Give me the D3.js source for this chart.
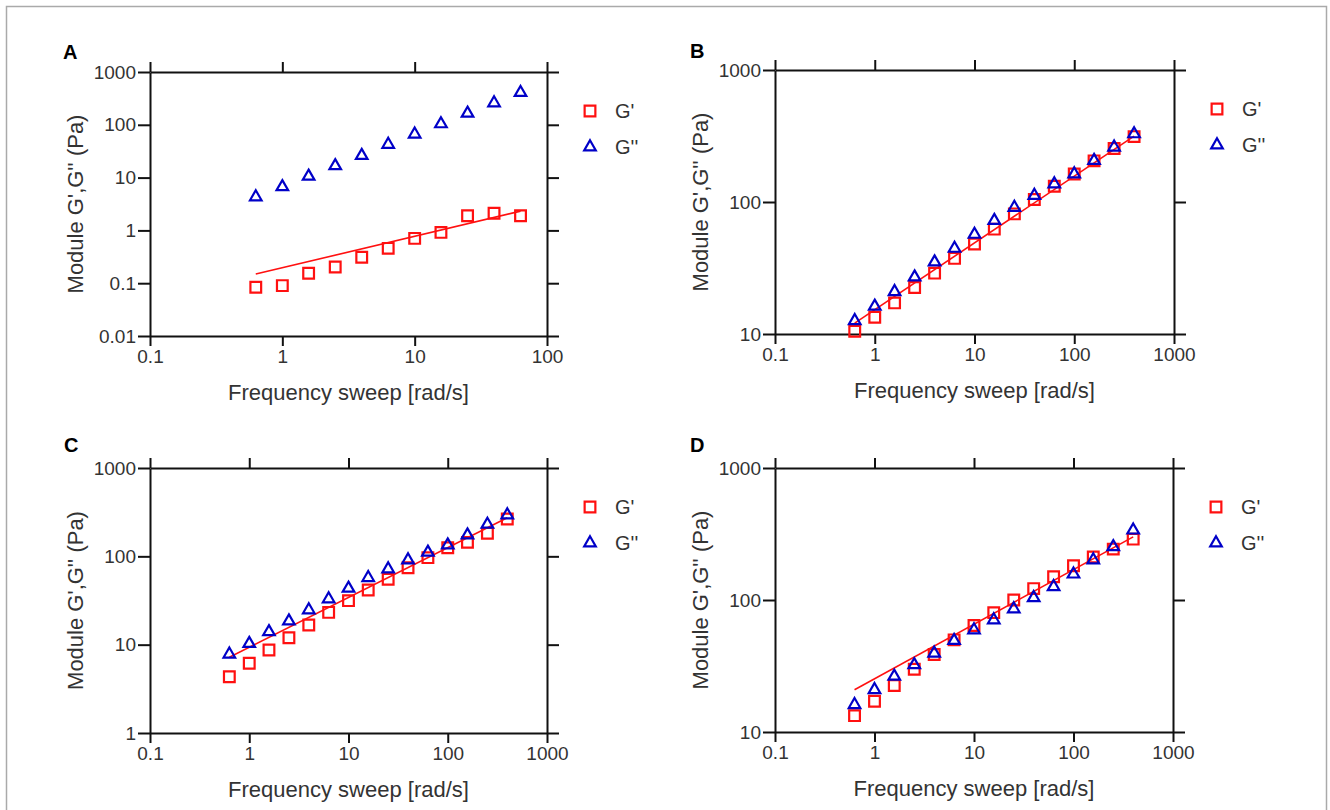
<!DOCTYPE html>
<html>
<head>
<meta charset="utf-8">
<script src="https://cdn.jsdelivr.net/npm/d3@7"></script>
<style>
  body { margin: 0; background: #fff; }
  svg { font-family: "Liberation Sans", Arial, sans-serif; }
</style>
</head>
<body>
<svg width="1330" height="810"></svg>
<script>
// frequencies (rad/s), 5 points per decade
var freqA = [0.63, 1, 1.58, 2.51, 3.98, 6.31, 10, 15.8, 25.1, 39.8, 63.1];
var freqBCD = [0.63, 1, 1.58, 2.51, 3.98, 6.31, 10, 15.8, 25.1, 39.8, 63.1, 100, 158, 251, 398];

// storage modulus G' and loss modulus G'' (Pa)
var gPrimeA = [0.084, 0.090, 0.154, 0.202, 0.309, 0.457, 0.706, 0.916, 1.89, 2.12, 1.89];
var gDoubleA = [4.3, 6.7, 10.6, 16.7, 26.2, 42.4, 66.3, 104, 165, 259, 407];
var gPrimeB = [10.5, 13.4, 17.2, 22.5, 28.9, 37.4, 48.0, 62.3, 81.3, 104.5, 131.8, 163, 205, 254, 313];
var gDoubleB = [12.6, 16.2, 20.9, 27.0, 35.1, 44.5, 56.8, 72.4, 90.9, 112, 137, 163, 206, 260, 328];
var gPrimeC = [4.34, 6.15, 8.7, 12.0, 16.7, 23.2, 31.5, 41.6, 54.9, 74.4, 96.6, 125, 144, 182, 265];
var gDoubleC = [7.8, 10.3, 14.0, 18.5, 24.7, 32.9, 43.4, 57.3, 71.9, 90.9, 111, 134, 174, 230, 294];
var gPrimeD = [13.3, 17.1, 22.5, 29.9, 38.6, 49.9, 64.0, 80.2, 100, 122, 150, 182, 212, 243, 289];
var gDoubleD = [16.1, 20.9, 26.4, 32.3, 39.5, 49.3, 59.3, 70.6, 85.5, 104, 126, 157, 201, 253, 338];

// power-law fit of G' : end points [x0, x1] -> [y0, y1]
var fitXA = [0.63, 63.1], fitA = [0.149, 2.32];
var fitXBCD = [0.63, 398];
var fitB = [12.1, 316];
var fitC = [7.2, 274];
var fitD = [20.9, 301];

// tick values / labels
var xTicksA = [0.1, 1, 10, 100];
var xTicksBCD = [0.1, 1, 10, 100, 1000];
var yTicksA = [0.01, 0.1, 1, 10, 100, 1000];
var yTicksB = [10, 100, 1000];
var yTicksC = [1, 10, 100, 1000];
var yTicksD = [10, 100, 1000];
var tickLabels = {0.01: "0.01", 0.1: "0.1", 1: "1", 10: "10", 100: "100", 1000: "1000"};

var legendNames = ["G'", "G''"];
var xTitle = "Frequency sweep [rad/s]";
var yTitle = "Module G',G'' (Pa)";

var svg = d3.select("svg");
var RED = "#ff1010", BLUE = "#0000c8", INK = "#333";

// figure frame
svg.append("rect").attr("x", 6.5).attr("y", 6.5)
    .attr("width", 1320).attr("height", 820)
    .attr("fill", "none").attr("stroke", "#aaa").attr("stroke-width", 1.5);

var panels = [
    {id: "A", box: [150, 72, 547, 336], x: freqA, gp: gPrimeA, gd: gDoubleA,
     fx: fitXA, fy: fitA, xt: xTicksA, yt: yTicksA, lx: 63, ly: 59},
    {id: "B", box: [775, 70, 1174, 334], x: freqBCD, gp: gPrimeB, gd: gDoubleB,
     fx: fitXBCD, fy: fitB, xt: xTicksBCD, yt: yTicksB, lx: 690, ly: 58},
    {id: "C", box: [150, 468, 547, 733], x: freqBCD, gp: gPrimeC, gd: gDoubleC,
     fx: fitXBCD, fy: fitC, xt: xTicksBCD, yt: yTicksC, lx: 64, ly: 452},
    {id: "D", box: [775, 468, 1173, 732], x: freqBCD, gp: gPrimeD, gd: gDoubleD,
     fx: fitXBCD, fy: fitD, xt: xTicksBCD, yt: yTicksD, lx: 690, ly: 452}
];

var sq = d3.symbol(d3.symbolSquare, 115);
var tri = d3.symbol(d3.symbolTriangle, 58);

function drawPanel(p) {
    var x0 = p.box[0], y0 = p.box[1], x1 = p.box[2], y1 = p.box[3];
    var xt = p.xt, yt = p.yt;
    var scX = d3.scaleLog().domain([xt[0], xt[xt.length - 1]]).range([x0, x1]);
    var scY = d3.scaleLog().domain([yt[0], yt[yt.length - 1]]).range([y1, y0]);
    var fmt = function(d) { return tickLabels[d]; };

    var styleAxis = function(g, labels) {
        g.attr("font-size", 19).attr("font-family", "Liberation Sans, Arial, sans-serif");
        g.select(".domain").attr("stroke", "#111").attr("stroke-width", 2);
        g.selectAll(".tick line").attr("stroke", "#111").attr("stroke-width", 2);
        g.selectAll("text").attr("fill", INK);
        if (!labels) g.selectAll("text").remove();
    };

    svg.append("g").attr("transform", "translate(0," + y1 + ")")
        .call(d3.axisBottom(scX).tickValues(xt).tickFormat(fmt).tickSize(10).tickSizeOuter(0).tickPadding(4))
        .call(styleAxis, true);
    svg.append("g").attr("transform", "translate(0," + y0 + ")")
        .call(d3.axisTop(scX).tickValues(xt).tickSize(10).tickSizeOuter(0))
        .call(styleAxis, false);
    svg.append("g").attr("transform", "translate(" + x0 + ",0)")
        .call(d3.axisLeft(scY).tickValues(yt).tickFormat(fmt).tickSize(12).tickSizeOuter(0).tickPadding(2))
        .call(styleAxis, true);
    svg.append("g").attr("transform", "translate(" + x1 + ",0)")
        .call(d3.axisRight(scY).tickValues(yt).tickSize(12).tickSizeOuter(0))
        .call(styleAxis, false);

    // axis titles
    svg.append("text").attr("x", (x0 + x1) / 2).attr("y", y1 + 64)
        .attr("text-anchor", "middle").attr("font-size", 22).attr("fill", INK)
        .text(xTitle);
    svg.append("text")
        .attr("transform", "translate(" + (x0 - 67) + "," + (y0 + y1) / 2 + ") rotate(-90)")
        .attr("text-anchor", "middle").attr("font-size", 22).attr("fill", INK)
        .text(yTitle);

    // panel letter
    svg.append("text").attr("x", p.lx).attr("y", p.ly)
        .attr("font-size", 20).attr("font-weight", "bold").attr("fill", "#000")
        .text(p.id);

    // fit line
    var lnMkr = d3.line().x(d => scX(d[0])).y(d => scY(d[1]));
    svg.append("path").attr("fill", "none").attr("stroke", RED).attr("stroke-width", 1.6)
        .attr("d", lnMkr(d3.zip(p.fx, p.fy)));

    // G' squares then G'' triangles
    var g = svg.append("g");
    g.selectAll("path.gp").data(d3.zip(p.x, p.gp)).enter()
        .append("path").attr("class", "gp")
        .attr("d", sq)
        .attr("transform", d => "translate(" + scX(d[0]) + "," + scY(d[1]) + ")")
        .attr("fill", "none").attr("stroke", RED).attr("stroke-width", 2.2);
    g.selectAll("path.gd").data(d3.zip(p.x, p.gd)).enter()
        .append("path").attr("class", "gd")
        .attr("d", tri)
        .attr("transform", d => "translate(" + scX(d[0]) + "," + scY(d[1]) + ")")
        .attr("fill", "none").attr("stroke", BLUE).attr("stroke-width", 2.2);

    // legend
    var lgX = x1 + 43, lgY = y0 + 39;
    svg.append("path").attr("d", sq).attr("transform", "translate(" + lgX + "," + lgY + ")")
        .attr("fill", "none").attr("stroke", RED).attr("stroke-width", 2.2);
    svg.append("path").attr("d", tri).attr("transform", "translate(" + lgX + "," + (lgY + 36) + ")")
        .attr("fill", "none").attr("stroke", BLUE).attr("stroke-width", 2.2);
    svg.append("text").attr("x", lgX + 25).attr("y", lgY + 7)
        .attr("font-size", 20).attr("fill", INK).text(legendNames[0]);
    svg.append("text").attr("x", lgX + 25).attr("y", lgY + 43)
        .attr("font-size", 20).attr("fill", INK).text(legendNames[1]);
}

panels.forEach(drawPanel);
</script>
</body>
</html>
